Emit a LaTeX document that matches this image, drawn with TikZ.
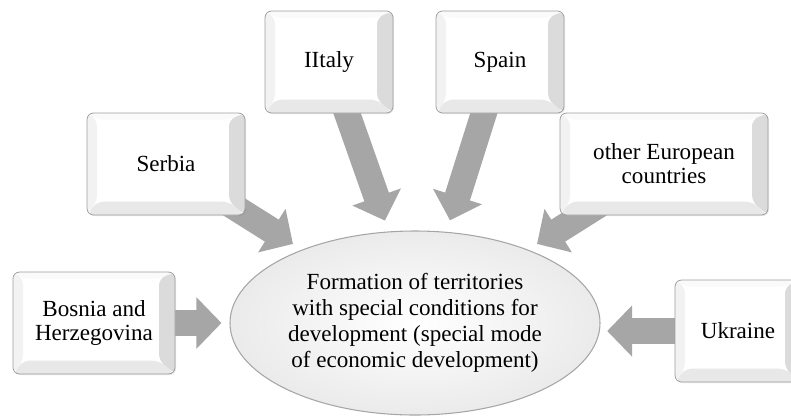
\documentclass[tikz,border=0pt]{standalone}
\usepackage{fontspec}
\setmainfont{Liberation Serif}
\usetikzlibrary{arrows.meta,backgrounds,shadows,shapes.geometric}

\tikzset{
  countrybox/.style={rectangle, rounded corners=5pt, draw=black!38, line width=0.6pt, fill=white,
    align=center, inner sep=0pt, minimum height=76.5pt,
    font=\fontsize{17.3pt}{18pt}\selectfont,
    drop shadow={opacity=0.18, shadow xshift=0.8pt, shadow yshift=-0.8pt},
    path picture={
      % bevel: top, right, bottom, left
      \fill[black!2] (path picture bounding box.north west) -- (path picture bounding box.north east)
        -- ([shift={(-12pt,-5pt)}]path picture bounding box.north east) -- ([shift={(7.5pt,-5pt)}]path picture bounding box.north west) -- cycle;
      \fill[black!14] (path picture bounding box.north east) -- (path picture bounding box.south east)
        -- ([shift={(-12pt,10pt)}]path picture bounding box.south east) -- ([shift={(-12pt,-5pt)}]path picture bounding box.north east) -- cycle;
      \fill[black!9] (path picture bounding box.south west) -- (path picture bounding box.south east)
        -- ([shift={(-12pt,10pt)}]path picture bounding box.south east) -- ([shift={(7.5pt,10pt)}]path picture bounding box.south west) -- cycle;
      \fill[black!5] (path picture bounding box.north west) -- (path picture bounding box.south west)
        -- ([shift={(7.5pt,10pt)}]path picture bounding box.south west) -- ([shift={(7.5pt,-5pt)}]path picture bounding box.north west) -- cycle;
    }},
  ovalbox/.style={ellipse, draw=black!35, line width=0.8pt, inner color=white, outer color=black!8,
    align=center, inner sep=0pt, minimum width=277.5pt, minimum height=138pt,
    font=\fontsize{17.3pt}{19.5pt}\selectfont},
  flowarrow/.style={draw=black!35, line width=19.5pt, -{Triangle[width=37.5pt,length=18.75pt]}}
}

\begin{document}
\begin{tikzpicture}[x=0.75pt,y=-0.75pt]
\useasboundingbox (0,0) rectangle (791,419);

% Ellipse
\node[ovalbox] (oval) at (415,323) {Formation of territories\\with special conditions for\\development (special mode\\of economic development)};

% Text Node
\node[countrybox, minimum width=121.5pt] (bosnia) at (94,323) {Bosnia and\\Herzegovina};
% Text Node
\node[countrybox, minimum width=118.5pt] (serbia) at (166,164) {Serbia};
% Text Node
\node[countrybox, minimum width=96pt] (italy) at (329,62) {IItaly};
% Text Node
\node[countrybox, minimum width=96pt] (spain) at (500,62) {Spain};
% Text Node
\node[countrybox, minimum width=156pt] (other) at (664,164) {other European\\countries};
% Text Node
\node[countrybox, minimum width=94.5pt] (ukraine) at (738,331) {Ukraine};

% Block arrows
\begin{scope}[on background layer]
\draw[flowarrow, shorten >=6pt] (bosnia.center) -- (bosnia.center -| oval.west);
\draw[flowarrow, shorten >=8pt] (serbia.center) -- (oval.147);
\draw[flowarrow, shorten >=8.6pt] (italy.center) -- (oval.106);
\draw[flowarrow, shorten >=9pt] (spain.center) -- (oval.71);
\draw[flowarrow, shorten >=8pt] (other.center) -- (oval.33);
\draw[flowarrow, shorten >=5pt] (ukraine.center) -- (ukraine.center -| oval.east);
\end{scope}

\end{tikzpicture}
\end{document}
